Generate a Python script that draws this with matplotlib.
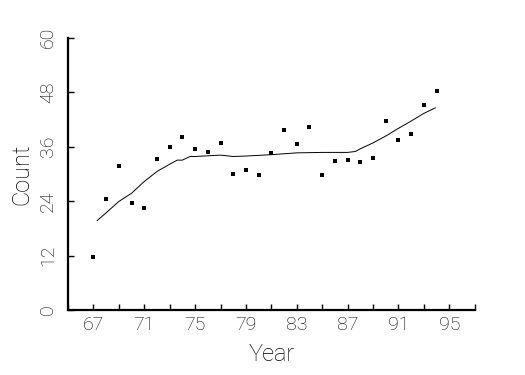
import matplotlib
matplotlib.use("Agg")
import matplotlib.pyplot as plt
from matplotlib.ticker import MultipleLocator

plt.rcParams["font.family"] = ["Roboto", "DejaVu Sans"]
plt.rcParams["font.weight"] = "light"
plt.rcParams["axes.labelweight"] = "light"

# ── data ─────────────────────────────────────────────────────────────────────
years = list(range(67, 95))
counts = [11.6, 24.4, 31.6, 23.6, 22.4, 33.2, 35.8, 38.2, 35.5, 34.9,
          36.8, 29.9, 30.8, 29.7, 34.6, 39.6, 36.5, 40.3, 29.7, 32.7,
          33.1, 32.6, 33.4, 41.6, 37.4, 38.7, 45.1, 48.2]

fit_years = [67.3, 68, 69, 70, 71, 72, 73, 73.6, 74, 74.6, 75, 77, 78, 79,
             81, 83, 85, 87, 87.6, 88, 89, 90, 91, 92, 93, 93.9]
fit_vals = [19.7, 21.4, 23.9, 25.7, 28.3, 30.5, 32.1, 33.0, 33.0, 33.8,
            33.8, 34.1, 33.8, 33.9, 34.2, 34.6, 34.7, 34.7, 34.9, 35.5,
            36.8, 38.3, 40.0, 41.6, 43.3, 44.5]

x_major = [67, 71, 75, 79, 83, 87, 91, 95]
y_major = [0, 12, 24, 36, 48, 60]

# ── figure ────────────────────────────────────────────────────────────────────
fig = plt.figure(figsize=(5.25, 3.75), dpi=100)
ax = fig.add_axes([0.1295, 0.1733, 0.7747, 0.7267])

ax.plot(fit_years, fit_vals, color="black", linewidth=0.7)
ax.plot(years, counts, linestyle="none", marker="s", markersize=2.2,
        markeredgewidth=0, color="black")

ax.set_xlim(65, 97)
ax.set_ylim(0, 60)
ax.set_xticks(x_major)
ax.xaxis.set_minor_locator(MultipleLocator(4, offset=1))
ax.set_yticks(y_major)

for side in ("top", "right"):
    ax.spines[side].set_visible(False)
for side in ("left", "bottom"):
    ax.spines[side].set_linewidth(1.6)

ax.tick_params(axis="both", which="both", direction="in", length=4,
               width=1, labelsize=14, labelcolor="black")
ax.tick_params(axis="x", which="major", pad=4)
ax.tick_params(axis="y", which="major", pad=8, labelrotation=90)
for t in ax.get_yticklabels():
    t.set_va("center")

ax.set_xlabel("Year", fontsize=17, labelpad=7)
ax.set_ylabel("Count", fontsize=17, labelpad=4)

fig.savefig("out.png", dpi=100)
